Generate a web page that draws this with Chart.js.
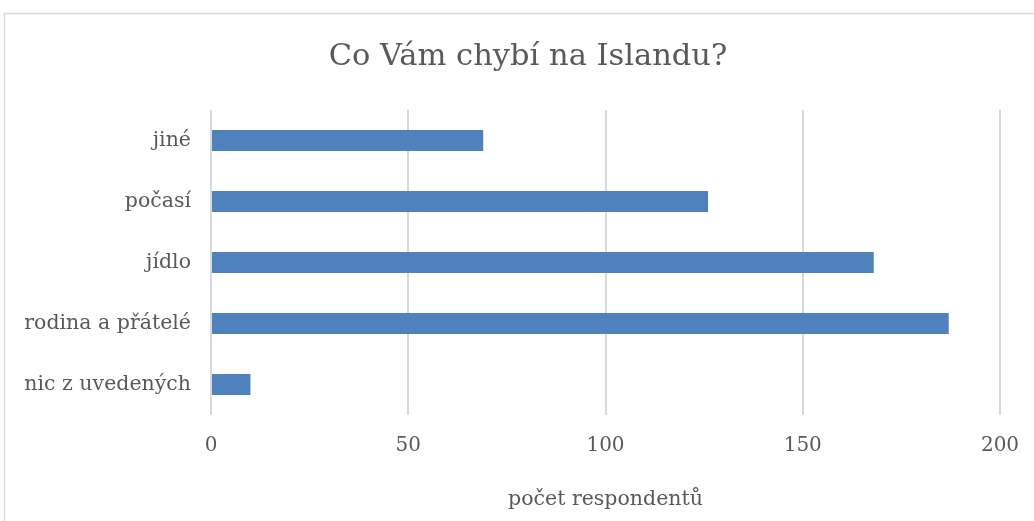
<!DOCTYPE html>
<html><head><meta charset="utf-8">
<script src="https://cdn.jsdelivr.net/npm/chart.js@4/dist/chart.umd.min.js"></script>
<style>html,body{margin:0;padding:0;background:#fff}#w{width:1034px;height:521px}</style>
</head><body><div id="w"><canvas id="c" width="1034" height="521"></canvas></div>
<script>
const categories = ["jiné", "počasí", "jídlo", "rodina a přátelé", "nic z uvedených"];
const values = [69, 126, 168, 187, 10];
const xTicks = [0, 50, 100, 150, 200];
const titleText = "Co Vám chybí na Islandu?";
const xTitle = "počet respondentů";

const FONT = "'DejaVu Serif', serif";
const GRAY = "#595959";

const borderPlugin = {
  id: 'border',
  beforeDraw(chart) {
    const ctx = chart.ctx;
    ctx.save();
    ctx.fillStyle = '#fff';
    ctx.fillRect(0, 0, chart.width, chart.height);
    ctx.strokeStyle = '#d9d9d9';
    ctx.lineWidth = 1.5;
    ctx.strokeRect(4.5, 13.5, 1200, 700);
    ctx.restore();
  },
  afterDraw(chart) {
    const ctx = chart.ctx;
    ctx.save();
    ctx.fillStyle = GRAY;
    ctx.font = "30.5px " + FONT;
    ctx.textAlign = 'center';
    ctx.textBaseline = 'middle';
    ctx.fillText(titleText, 528, 57);
    ctx.restore();
  }
};

new Chart(document.getElementById('c'), {
  type: 'bar',
  data: {
    labels: categories,
    datasets: [{ data: values, backgroundColor: '#4f81bd', borderWidth: 0,
      categoryPercentage: 1, barPercentage: 0.345 }]
  },
  options: {
    indexAxis: 'y',
    responsive: false,
    animation: false,
    devicePixelRatio: 1,
    layout: { padding: { left: 0, right: 34, top: 110, bottom: 0 } },
    plugins: {
      legend: { display: false },
      tooltip: { enabled: false },
      title: { display: false }
    },
    scales: {
      x: {
        min: 0, max: 200,
        afterBuildTicks(s) { s.ticks = xTicks.map(v => ({ value: v })); },
        grid: { color: '#d9d9d9', lineWidth: 2, drawTicks: false },
        border: { display: false },
        ticks: { color: GRAY, padding: 19, font: { family: FONT, size: 20 } },
        title: { display: true, text: xTitle, color: GRAY, padding: { top: 19, bottom: 9 },
          font: { family: FONT, size: 20.5 } },
        afterFit(s) { s.height = 521 - 415; s.paddingLeft = 0; s.paddingRight = 0; }
      },
      y: {
        grid: { display: false, drawTicks: false },
        border: { display: false },
        ticks: { color: GRAY, padding: 20, font: { family: FONT, size: 20.5 } },
        afterFit(s) { s.width = 211; s.paddingTop = 0; s.paddingBottom = 0; }
      }
    }
  },
  plugins: [borderPlugin]
});
</script></body></html>
